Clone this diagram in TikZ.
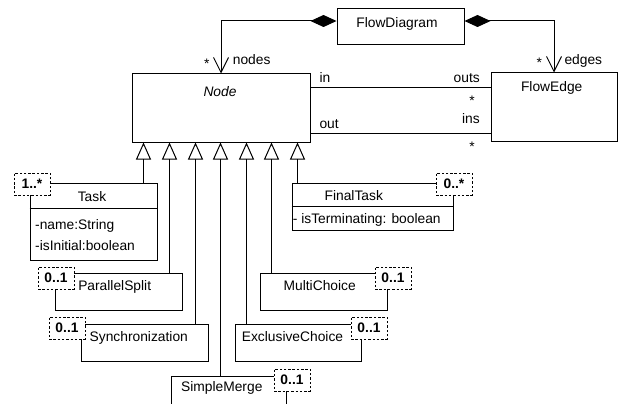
\documentclass[tikz,border=0pt]{standalone}
\usepackage{fontspec}
\setmainfont{Liberation Sans}
\usetikzlibrary{arrows.meta}
\begin{document}
\begin{tikzpicture}[x=1pt,y=-1pt,
  every node/.style={font=\fontsize{13.8}{16}\selectfont, inner sep=0pt},
  cls/.style={draw, line width=1pt, fill=white, anchor=north west, inner sep=0pt},
  mult/.style={draw, dash pattern=on 2.5pt off 1.8pt, line width=1pt, fill=white,
    anchor=north west, minimum width=36pt, minimum height=22pt,
    font=\fontsize{13.8}{16}\selectfont\bfseries},
  lbl/.style={anchor=base},
  lblw/.style={anchor=base west},
  lble/.style={anchor=base east},
  ln/.style={line width=1pt},
  gen/.style={line width=1pt, -{Triangle[open,length=17pt,width=15pt]}},
  comp/.style={line width=1pt, {Diamond[length=26pt,width=12pt]}-{Straight Barb[length=15pt,width=15pt]}},
]
\clip (0,0) rectangle (622,404);
\fill[white] (0,0) rectangle (622,404);

% main classes
\node[cls, minimum width=127pt, minimum height=36pt] (fd) at (336.5,8.5) {};
\node[lbl] (fdT) at (397,27.2) {FlowDiagram};
\node[cls, minimum width=178pt, minimum height=69pt] (nd) at (131.5,73.5) {};
\node[lbl] (ndT) at (220,96.6) {\itshape Node};
\node[cls, minimum width=126pt, minimum height=69pt] (fe) at (490.5,72.5) {};
\node[lbl] (feT) at (551.7,91.6) {FlowEdge};

% compositions
\draw[comp] ([yshift=6pt]fd.west) -| (nd.north);
\draw[comp] ([yshift=6pt]fd.east) -| (fe.north);
\node[lbl] (ndS) at (206.7,68.7) {*};
\node[lblw] (ndR) at (232.7,65) {nodes};
\node[lbl] (feS) at (539.3,68) {*};
\node[lblw] (feR) at (564.3,65) {edges};

% associations
\draw[ln] (nd.east |- 0,87.5) -- (fe.west |- 0,87.5);
\draw[ln] (nd.east |- 0,133.5) -- (fe.west |- 0,133.5);
\node[lblw] (inL) at (319.3,82.7) {in};
\node[lble] (outsL) at (480,82.7) {outs};
\node[lbl] (s1) at (472,106) {*};
\node[lblw] (outL) at (319.3,128.3) {out};
\node[lble] (insL) at (480,124) {ins};
\node[lbl] (s2) at (472,152) {*};

% subclasses
\node[cls, minimum width=127pt, minimum height=77pt] (task) at (29.5,182.5) {};
\draw[ln] (task.west |- 0,208.5) -- (task.east |- 0,208.5);
\node[lbl] (taskT) at (92,201.6) {Task};
\node[lblw] (taskA) at (35,229.9) {-name:String};
\node[lblw] (taskB) at (35,250) {-isInitial:boolean};

\node[cls, minimum width=161pt, minimum height=47pt] (ft) at (291.5,182.5) {};
\draw[ln] (ft.west |- 0,206.5) -- (ft.east |- 0,206.5);
\node[lbl] (ftT) at (353.8,200.6) {FinalTask};
\node[lblw] (ftA) at (292.7,223) {- isTerminating: boolean};

\node[cls, minimum width=127pt, minimum height=37pt] (ps) at (54.5,272.5) {};
\node[lbl] (psT) at (114.7,290.7) {ParallelSplit};
\node[cls, minimum width=127pt, minimum height=37pt] (mc) at (259.5,272.5) {};
\node[lbl] (mcT) at (319.7,290.7) {MultiChoice};
\node[cls, minimum width=127pt, minimum height=37pt] (sy) at (80.5,323.5) {};
\node[lbl] (syT) at (138.8,341.6) {Synchronization};
\node[cls, minimum width=126pt, minimum height=37pt] (ec) at (234.5,323.5) {};
\node[lbl] (ecT) at (292.5,341.6) {ExclusiveChoice};
\node[cls, minimum width=115pt, minimum height=40pt] (sm) at (170.5,375.5) {};
\node[lbl] (smT) at (221.8,391) {SimpleMerge};

% generalizations
\coordinate (g1) at (143.5,142.5);
\coordinate (g2) at (169.5,142.5);
\coordinate (g3) at (195.5,142.5);
\coordinate (g4) at (220.5,142.5);
\coordinate (g5) at (246.5,142.5);
\coordinate (g6) at (271.5,142.5);
\coordinate (g7) at (297.5,142.5);
\draw[gen] (task.north -| g1) -- (g1);
\draw[gen] (ps.north -| g2) -- (g2);
\draw[gen] (sy.north -| g3) -- (g3);
\draw[gen] (sm.north -| g4) -- (g4);
\draw[gen] (ec.north -| g5) -- (g5);
\draw[gen] (mc.north -| g6) -- (g6);
\draw[gen] (ft.north -| g7) -- (g7);

% multiplicities
\node[mult] (m1) at (13.5,172.5) {1..*};
\node[mult] (m2) at (435.5,172.5) {0..*};
\node[mult] (m3) at (37.5,266.5) {0..1};
\node[mult] (m4) at (48.5,316.5) {0..1};
\node[mult] (m5) at (273.5,368.5) {0..1};
\node[mult] (m6) at (350.5,316.5) {0..1};
\node[mult] (m7) at (374.5,266.5) {0..1};
\end{tikzpicture}
\end{document}
